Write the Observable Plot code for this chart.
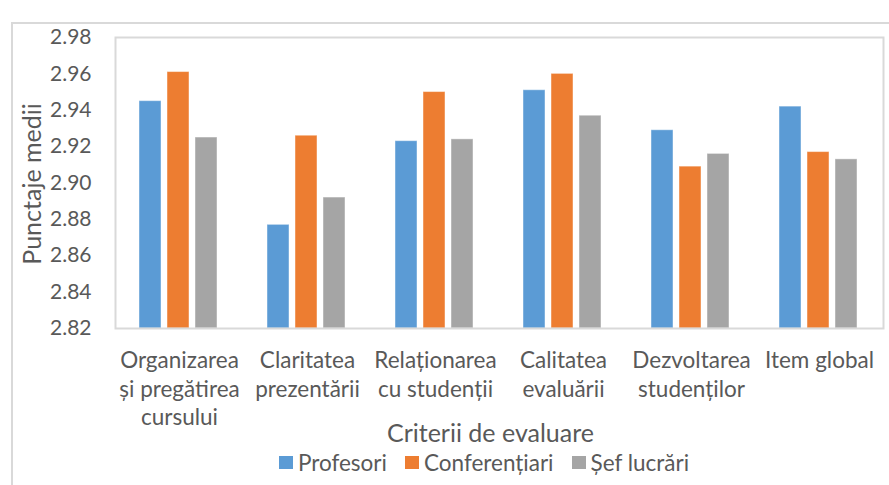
<!DOCTYPE html>
<html>
<head>
<meta charset="utf-8">
<script src="https://cdn.jsdelivr.net/npm/d3@7"></script>
<script src="https://cdn.jsdelivr.net/npm/@observablehq/plot@0.6"></script>
<style>
  html, body { margin: 0; padding: 0; background: #fff; }
  body { width: 889px; height: 485px; position: relative; overflow: hidden; font-family: Lato, "Open Sans", sans-serif; }
  #border { position: absolute; left: 11px; top: 22px; right: -5px; bottom: -5px; border-left: 2px solid #d9d9d9; border-top: 2px solid #d9d9d9; }
  #chart { position: relative; height: 448px; }
  #legend { position: relative; display: flex; justify-content: center; align-items: center; height: 30px; margin-top: -1px; color: #595959; font-size: 22.5px; padding-left: 79px; }
  #legend span.item { display: inline-flex; align-items: center; margin: 0 9px; }
  #legend span.sw { width: 14px; height: 13px; display: inline-block; margin-right: 5px; }
</style>
</head>
<body>
<div id="border"></div>
<div id="chart"></div>
<div id="legend"></div>
<script>
const categories = [
  "Organizarea\nși pregătirea\ncursului",
  "Claritatea\nprezentării",
  "Relaționarea\ncu studenții",
  "Calitatea\nevaluării",
  "Dezvoltarea\nstudenților",
  "Item global"
];
const seriesNames = ["Profesori", "Conferențiari", "Șef lucrări"];
const seriesColors = ["#5B9BD5", "#ED7D31", "#A5A5A5"];
const profesori     = [2.945, 2.877, 2.923, 2.951, 2.929, 2.942];
const conferentiari = [2.961, 2.926, 2.950, 2.960, 2.909, 2.917];
const sefLucrari    = [2.925, 2.892, 2.924, 2.937, 2.916, 2.913];
const yTicks = [2.82, 2.84, 2.86, 2.88, 2.90, 2.92, 2.94, 2.96, 2.98];
const yLabel = "Punctaje medii";
const xLabel = "Criterii de evaluare";

const seriesValues = [profesori, conferentiari, sefLucrari];
const baseline = yTicks[0];
const textColor = "#595959";

// inset pairs per series within a 128px band
const insets = [[24, 82], [52, 54], [80, 26]];

const barMarks = seriesValues.map((vals, i) =>
  Plot.barY(categories.map((c, j) => ({category: c, value: vals[j]})), {
    x: "category",
    y1: baseline,
    y2: "value",
    fill: seriesColors[i],
    stroke: "white",
    strokeOpacity: 0.45,
    strokeWidth: 1,
    insetLeft: insets[i][0],
    insetRight: insets[i][1]
  })
);

const chart = Plot.plot({
  width: 889,
  height: 448,
  marginLeft: 115,
  marginRight: 6,
  marginTop: 37,
  marginBottom: 120,
  style: {fontFamily: "Lato, 'Open Sans', sans-serif", color: textColor, background: "transparent"},
  x: {domain: categories, padding: 0, axis: null},
  y: {domain: [yTicks[0], yTicks[yTicks.length - 1]], axis: null},
  marks: [
    ...barMarks,
    Plot.frame({stroke: "#d9d9d9", strokeWidth: 2}),
    Plot.axisY({ticks: yTicks, tickFormat: d3.format(".2f"), tickSize: 0, tickPadding: 24, fontSize: 21, fill: textColor, label: null}),
    Plot.axisX({tickSize: 0, tickPadding: 20, fontSize: 22.5, lineHeight: 1.25, fill: textColor, label: null}),
    Plot.text([yLabel], {frameAnchor: "left", dx: -83, dy: 1, rotate: -90, textAnchor: "middle", fontSize: 25, fill: textColor}),
    Plot.text([xLabel], {frameAnchor: "bottom", dy: 113, fontSize: 25, fill: textColor, dx: -9})
  ]
});
document.getElementById("chart").appendChild(chart);

const legend = document.getElementById("legend");
seriesNames.forEach((name, i) => {
  const item = document.createElement("span");
  item.className = "item";
  const sw = document.createElement("span");
  sw.className = "sw";
  sw.style.background = seriesColors[i];
  item.appendChild(sw);
  item.appendChild(document.createTextNode(name));
  legend.appendChild(item);
});
</script>
</body>
</html>
